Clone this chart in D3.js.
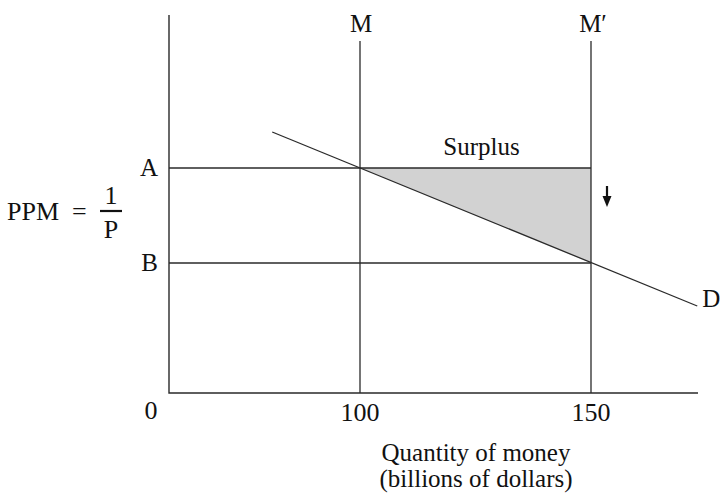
<!DOCTYPE html>
<html>
<head>
<meta charset="utf-8">
<script src="https://cdn.jsdelivr.net/npm/d3@7"></script>
<style>
  body { margin: 0; background: #fff; }
  text { font-family: "Liberation Serif", "DejaVu Serif", serif; fill: #111; }
</style>
</head>
<body>
<div id="chart"></div>
<script>
// quantity of money (billions) — M and M'
const supplyLevels = [100, 150]
const supplyLabels = ['M', 'M\u2032']
const xTicks = [100, 150]
// price of money levels (arbitrary units)
const priceLevels = [2.25, 1.3]
const priceLabels = ['A', 'B']
// demand curve points
const demandQ = [81, 173]
const demandP = [2.61, 0.87]
// surplus triangle
const surplusQ = [100, 150, 150]
const surplusP = [2.25, 2.25, 1.3]

const width = 725
const height = 502

const svg = d3.select('#chart')
  .append('svg')
  .attr('width', width)
  .attr('height', height)

const x = d3.scaleLinear().domain([100, 150]).range([360, 591])
const y = d3.scaleLinear().domain([0, 1]).range([393, 293])

const xMin = x.invert(169)
const xMax = x.invert(698)
const yTop = y.invert(15)
const lineTop = y.invert(41)

const line = d3.line().x(d => x(d[0])).y(d => y(d[1]))

// surplus area
svg.append('path')
  .attr('d', line(surplusQ.map((q, i) => [q, surplusP[i]])) + 'Z')
  .attr('fill', '#d2d2d2')

const stroke = '#2a2a2a'

// axes
svg.append('path')
  .attr('d', line([[xMin, yTop], [xMin, 0], [xMax, 0]]))
  .attr('fill', 'none')
  .attr('stroke', stroke)
  .attr('stroke-width', 1.4)

// horizontal A, B lines
priceLevels.forEach((p, i) => {
  svg.append('path')
    .attr('d', line([[xMin, p], [supplyLevels[1], p]]))
    .attr('stroke', stroke)
    .attr('stroke-width', 1.3)
  svg.append('text')
    .attr('x', 158)
    .attr('y', y(p) + 8)
    .attr('text-anchor', 'end')
    .attr('font-size', 25)
    .text(priceLabels[i])
})

// vertical M, M' lines
supplyLevels.forEach((q, i) => {
  svg.append('path')
    .attr('d', line([[q, 0], [q, lineTop]]))
    .attr('stroke', stroke)
    .attr('stroke-width', 1.3)
  svg.append('text')
    .attr('x', x(q) + (i ? 2 : 1))
    .attr('y', 32)
    .attr('text-anchor', 'middle')
    .attr('font-size', 25)
    .text(supplyLabels[i])
})

// demand
svg.append('path')
  .attr('d', line(demandQ.map((q, i) => [q, demandP[i]])))
  .attr('stroke', stroke)
  .attr('stroke-width', 1.3)
svg.append('text')
  .attr('x', x(demandQ[1]) + 5)
  .attr('y', y(demandP[1]) + 1)
  .attr('font-size', 25)
  .text('D')

svg.append('text')
  .attr('x', (x(supplyLevels[0]) + x(supplyLevels[1])) / 2 + 6)
  .attr('y', y(priceLevels[0]) - 13)
  .attr('text-anchor', 'middle')
  .attr('font-size', 25)
  .text('Surplus')

// downward arrow
const ax = x(supplyLevels[1]) + 16
svg.append('line')
  .attr('x1', ax).attr('x2', ax)
  .attr('y1', 186).attr('y2', 198)
  .attr('stroke', '#111')
  .attr('stroke-width', 2.2)
svg.append('path')
  .attr('d', `M${ax - 4.5},196 L${ax + 4.5},196 L${ax},207 Z`)
  .attr('fill', '#111')

// x tick labels
svg.selectAll('.xtick')
  .data(xTicks)
  .join('text')
  .attr('class', 'xtick')
  .attr('x', d => x(d))
  .attr('y', 421)
  .attr('text-anchor', 'middle')
  .attr('font-size', 26)
  .text(d => d)

svg.append('text')
  .attr('x', 151)
  .attr('y', 419)
  .attr('text-anchor', 'middle')
  .attr('font-size', 26)
  .text('0')

// x axis title
const title = svg.append('text')
  .attr('x', 476)
  .attr('text-anchor', 'middle')
  .attr('font-size', 25)
title.append('tspan').attr('x', 476).attr('y', 461).text('Quantity of money')
title.append('tspan').attr('x', 476).attr('y', 487).text('(billions of dollars)')

// y axis label PPM = 1/P
svg.append('text')
  .attr('x', 7)
  .attr('y', 220)
  .attr('font-size', 26)
  .text('PPM')
svg.append('text')
  .attr('x', 72)
  .attr('y', 220)
  .attr('font-size', 26)
  .text('=')
svg.append('line')
  .attr('x1', 100).attr('x2', 122)
  .attr('y1', 211).attr('y2', 211)
  .attr('stroke', '#111')
  .attr('stroke-width', 2.2)
svg.append('text')
  .attr('x', 111)
  .attr('y', 204)
  .attr('text-anchor', 'middle')
  .attr('font-size', 26)
  .text('1')
svg.append('text')
  .attr('x', 111)
  .attr('y', 238)
  .attr('text-anchor', 'middle')
  .attr('font-size', 26)
  .text('P')
</script>
</body>
</html>
